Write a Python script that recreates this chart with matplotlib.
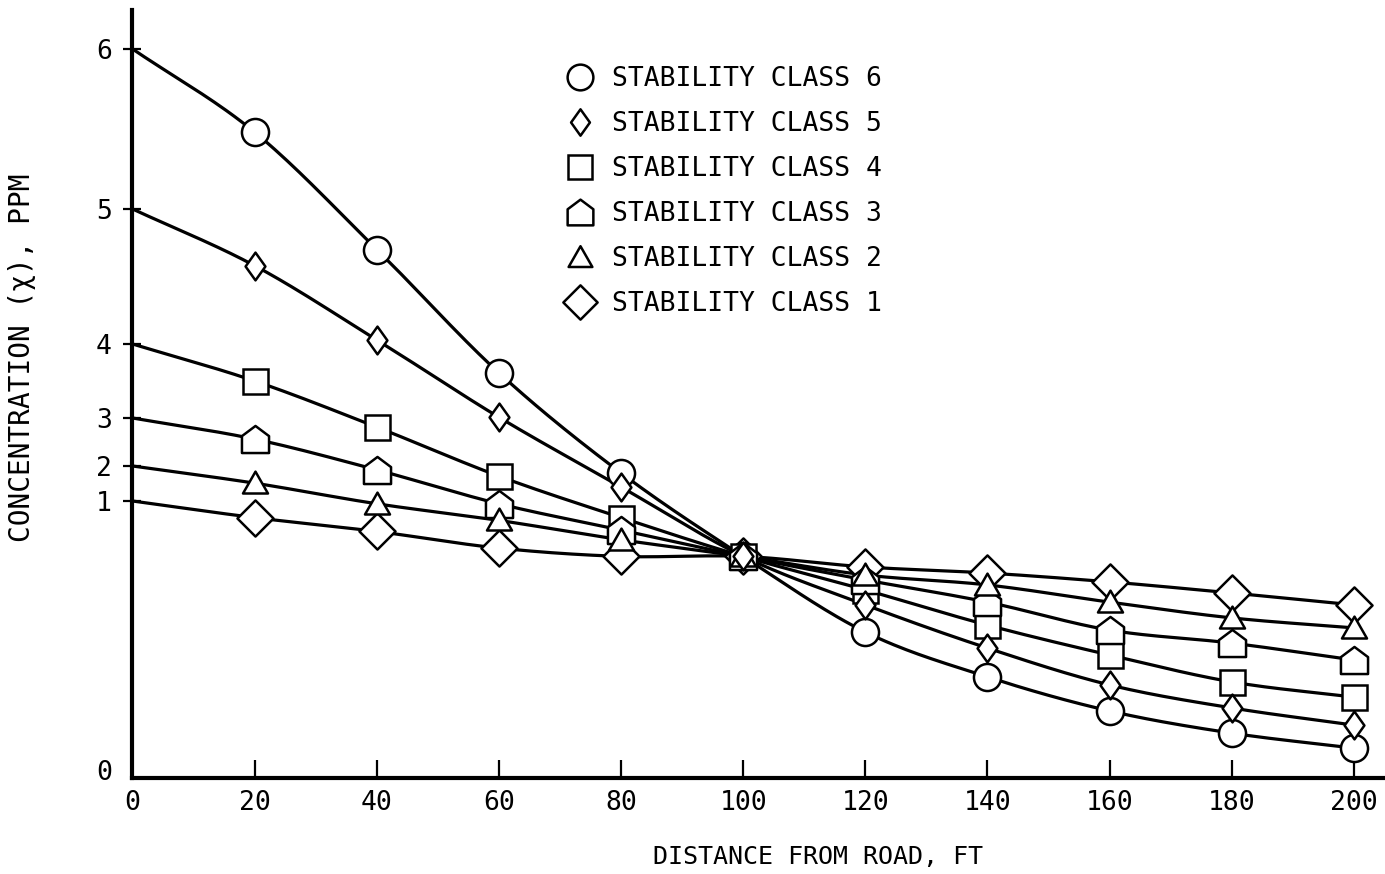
import numpy as np
import matplotlib
matplotlib.use("Agg")
import matplotlib.pyplot as plt
import matplotlib.transforms as mtransforms
from matplotlib.path import Path
from matplotlib.lines import Line2D

# ---------------- data ----------------
distance = [0, 20, 40, 60, 80, 100, 120, 140, 160, 180, 200]
class6 = [6.00, 5.48, 4.70, 3.61, 1.80, 0.80, 0.527, 0.365, 0.242, 0.162, 0.108]
class5 = [5.00, 4.58, 4.03, 3.01, 1.40, 0.80, 0.625, 0.469, 0.336, 0.253, 0.191]
class4 = [4.00, 3.50, 2.81, 1.71, 0.94, 0.80, 0.679, 0.552, 0.444, 0.347, 0.292]
class3 = [3.00, 2.56, 1.89, 0.99, 0.895, 0.80, 0.715, 0.635, 0.534, 0.487, 0.426]
class2 = [2.00, 1.51, 0.99, 0.93, 0.86, 0.80, 0.733, 0.697, 0.635, 0.578, 0.542]
class1 = [1.00, 0.94, 0.89, 0.83, 0.80, 0.80, 0.762, 0.740, 0.708, 0.668, 0.625]

labels = ["STABILITY CLASS 6", "STABILITY CLASS 5", "STABILITY CLASS 4",
          "STABILITY CLASS 3", "STABILITY CLASS 2", "STABILITY CLASS 1"]
ytick_vals = [0, 1, 2, 3, 4, 5, 6]
xtick_vals = [0, 20, 40, 60, 80, 100, 120, 140, 160, 180, 200]

# non-uniform concentration axis (as drawn in the original figure)
scale_vals = np.array([-1, 0, 1, 2, 3, 4, 5, 6, 7], dtype=float)
scale_pos = np.array([-277, 0, 277, 312, 360, 434, 569, 729, 889], dtype=float)

def fwd(v):
    return np.interp(v, scale_vals, scale_pos)

def inv(h):
    return np.interp(h, scale_pos, scale_vals)

def smooth(x, h, n=30):
    x = np.asarray(x, float); h = np.asarray(h, float)
    P = np.column_stack([x, h])
    P = np.vstack([P[0] - (P[1] - P[0]), P, P[-1] + (P[-1] - P[-2])])
    out = []
    t = np.linspace(0, 1, n, endpoint=False)[:, None]
    for i in range(1, len(P) - 2):
        p0, p1, p2, p3 = P[i - 1], P[i], P[i + 1], P[i + 2]
        seg = 0.5 * ((2 * p1) + (-p0 + p2) * t + (2 * p0 - 5 * p1 + 4 * p2 - p3) * t ** 2
                     + (-p0 + 3 * p1 - 3 * p2 + p3) * t ** 3)
        out.append(seg)
    out.append(P[-2][None, :])
    out = np.vstack(out)
    return out[:, 0], out[:, 1]

# markers
small_diamond = Path([(0, 1.4), (1, 0), (0, -1.4), (-1, 0), (0, 1.4)], closed=True)
big_diamond = Path([(0, 1), (1, 0), (0, -1), (-1, 0), (0, 1)], closed=True)
house = Path([(-1, -1), (1, -1), (1, 0.25), (0, 1), (-1, 0.25), (-1, -1)], closed=True)
tri = Path([(-1, -0.8), (1, -0.8), (0, 0.95), (-1, -0.8)], closed=True)

series = [class6, class5, class4, class3, class2, class1]
markers = ["o", small_diamond, "s", house, tri, big_diamond]
msizes = [19.5, 20, 18, 19.5, 18, 26]

FONT = ["DejaVu Sans Mono"]
plt.rcParams["font.family"] = FONT

fig = plt.figure(figsize=(13.85, 8.74), dpi=100)
ax = fig.add_axes([132 / 1385, 96 / 874, 1 - 132 / 1385, 768 / 874])
ax.set_yscale("function", functions=(fwd, inv))

# lines
for vals in series:
    xs, hs = smooth(distance, fwd(vals))
    ax.plot(xs, inv(hs), color="black", lw=2.3, zorder=2, solid_capstyle="round")

# markers (largest first so smaller ones stay visible)
order = [5, 0, 2, 3, 4, 1]
for k in order:
    ax.plot(distance[1:], series[k][1:], linestyle="none", marker=markers[k],
            ms=msizes[k], mfc="white", mec="black", mew=1.8, zorder=3 + order.index(k) * 0.1)

ax.set_xlim(-0.1, 205.1)
ax.set_ylim(0, 6.244)

ax.set_xticks(xtick_vals)
ax.set_xticklabels([str(v) for v in xtick_vals])
ax.set_yticks(ytick_vals)
ax.set_yticklabels([str(v) for v in ytick_vals])
ax.yaxis.set_minor_locator(matplotlib.ticker.NullLocator())
ax.xaxis.set_minor_locator(matplotlib.ticker.NullLocator())

ax.tick_params(axis="x", direction="in", length=13, width=1.6, pad=9, labelsize=19)
ax.tick_params(axis="y", direction="inout", length=13, width=1.6, pad=8, labelsize=19)
ax.xaxis.get_major_ticks()[0].tick1line.set_visible(False)
ax.yaxis.get_major_ticks()[0].tick1line.set_visible(False)
# the "0" on the concentration axis sits slightly above the baseline
zero_lab = ax.yaxis.get_major_ticks()[0].label1
zero_lab.set_transform(zero_lab.get_transform() +
                       mtransforms.ScaledTranslation(0, 8 / 100, fig.dpi_scale_trans))

for s in ["top", "right"]:
    ax.spines[s].set_visible(False)
for s in ["left", "bottom"]:
    ax.spines[s].set_linewidth(3)
    ax.spines[s].set_capstyle("projecting")

fig.text(818 / 1385, (874 - 857) / 874, "DISTANCE FROM ROAD, FT", fontsize=18,
         ha="center", va="center")
fig.text(22 / 1385, (874 - 358) / 874, "CONCENTRATION (χ), PPM", rotation=90,
         fontsize=20, ha="center", va="center")

handles = [Line2D([], [], linestyle="none", marker=markers[k], ms=msizes[k] * 0.95,
                  mfc="white", mec="black", mew=1.8) for k in range(6)]
leg = fig.legend(handles, labels, loc="upper left",
                 bbox_to_anchor=(559 / 1385, (874 - 66) / 874),
                 frameon=False, fontsize=19, handlelength=1.6, handletextpad=0.4,
                 labelspacing=0.72, borderpad=0, borderaxespad=0)

fig.savefig("out.png", dpi=100)
